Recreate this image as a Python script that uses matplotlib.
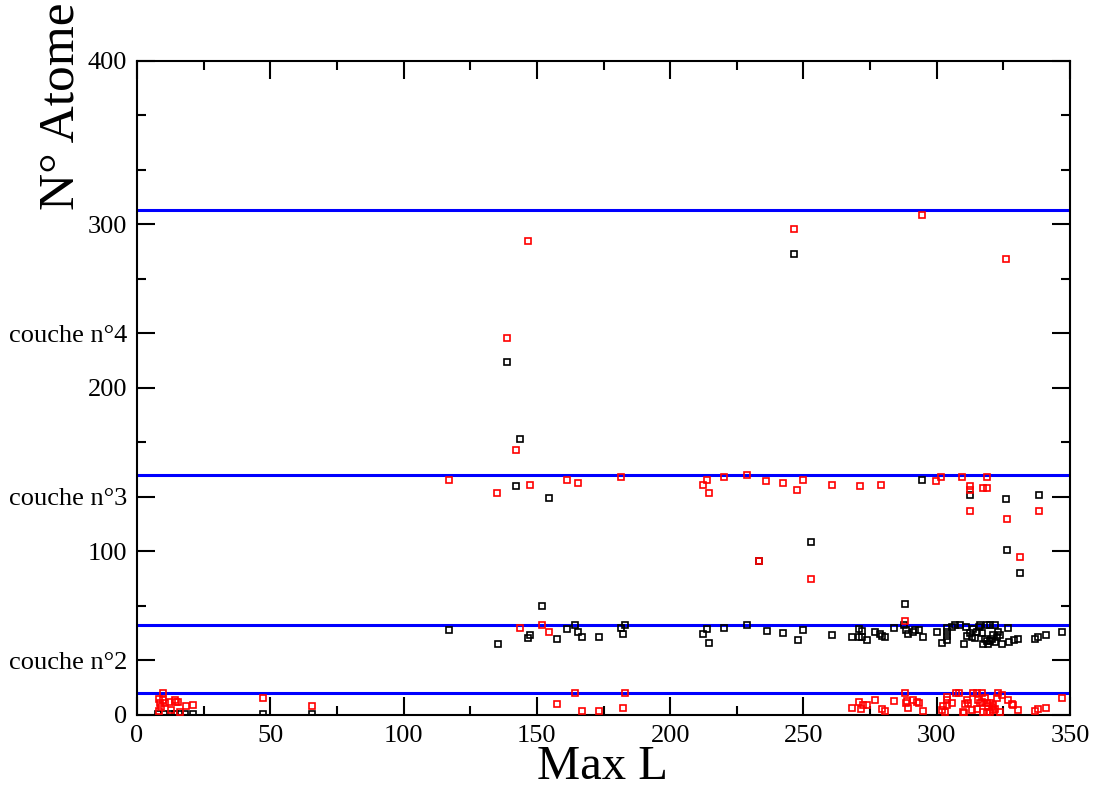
import matplotlib
matplotlib.use("Agg")
import matplotlib.pyplot as plt
import numpy as np

# couches (lignes bleues)
couches_y = [13.5, 55.0, 146.8, 308.9]

# points noirs (Max L, N° atome)
noir_x = [8, 10, 12.6, 14.3, 16, 18, 21, 47.4, 65.5,
          117.1, 135.5, 147.4, 146.5, 157.7, 161.2, 164.3, 165.3, 167, 173.4,
          181.4, 182.9, 182.4, 212.4, 213.7, 214.4, 220.2, 229, 236.2, 152,
          242.4, 247.8, 249.9, 260.6, 268.1, 271, 271.8, 270.8, 272, 274,
          277, 278.6, 279.5, 280.5, 284, 287.9, 288.3, 289.2, 291.1, 291.7,
          293.2, 294.8, 300, 288,
          301.8, 303.7, 303.9, 303.7, 303.9, 305.6, 306.8, 308.7, 311, 311.5,
          310.2, 312.5, 313.1, 313.7, 314.3, 315, 316, 316.8, 317.5, 319.3,
          320, 320.6, 321.2, 321.8, 322.5, 323.1, 323.7, 324.3, 316.2, 318.7,
          320, 321.8, 318.1, 318.7, 326.8,
          327.2, 329, 330.6, 336.8, 338, 340.8, 347,
          143.7, 142.2, 154.7, 233.4, 252.7, 294.3, 312.6, 326, 338.5, 326.5,
          331.3, 138.9, 246.3]
noir_y = [0.6, 0.6, 0.6, 0.6, 0.6, 0.6, 0.6, 0.6, 0.6,
          51.8, 43.4, 48.9, 46.9, 46.5, 52.6, 55, 50.5, 47.5, 47.5,
          53.2, 55, 49.6, 49.6, 52.6, 43.8, 53.2, 55, 51.2, 66.9,
          50, 45.8, 51.8, 48.7, 47.9, 52.8, 51.4, 47.9, 47.5, 46,
          50.5, 49.6, 48.5, 47.5, 53.2, 55, 52, 49.6, 50.5, 52,
          52, 47.5, 51, 67.9,
          44.2, 45.7, 53, 51, 48, 53.6, 55, 55, 53.6, 48,
          43.6, 50, 47.5, 52.8, 47, 50.8, 54, 50, 43.6, 43.6,
          45, 46.7, 48.7, 44.7, 47.7, 50.8, 48.7, 43.6, 55, 55,
          55, 55, 46.7, 45, 53,
          44.8, 45.6, 46.7, 46.7, 47.9, 48.9, 51,
          168.8, 139.9, 132.9, 94.4, 105.8, 143.7, 134.8, 131.8, 134.8, 100.9,
          86.8, 215.9, 282]

# points rouges
rouge_x = [9.9, 8.4, 9.9, 8.6, 10.5, 12.1, 14.3, 14.8, 15.5, 9.1, 12.6, 18.3,
           20.9, 8.1, 16, 47.4, 65.5, 157.7, 164.3, 167, 173.4, 182.4, 182.9,
           268.1, 271, 272.2, 271.6, 274, 277, 279.5, 280.5, 284, 288, 288.9,
           288.3, 289.2, 291.1, 292.6, 293.2, 294.8,
           303.7, 303.7, 304, 302.2, 301.8, 303.1, 305.6, 307.4, 308.5, 311.2,
           311.8, 310.6, 310, 310.2, 313.7, 315, 316.8, 313.1, 315, 317.5,
           318.7, 315.6, 316.2, 316.8, 318.1, 318.7, 319.3, 320, 320.6, 321.2,
           321.8, 322.5, 323.1, 324.3, 323.7, 326.8, 328.1, 328.7, 330.6, 320,
           321.2, 336.8, 338, 340.8, 347,
           288, 143.7, 152, 154.7,
           117.1, 135.1, 142.2, 147.3, 161.2, 165.3, 181.5, 212.4, 213.7, 214.4,
           220.2, 229, 236, 242.4, 247.7, 249.9, 260.6, 271.3, 279, 299.8,
           301.7, 309.3, 312.6, 312.6, 312.6, 317.2, 318.7, 319, 326.5, 338.5,
           331.3, 252.7, 233.4, 146.5, 138.9, 246.3, 294.3, 326]
rouge_y = [13.3, 10, 9.2, 7.1, 7.1, 8.2, 9.2, 8.2, 8.2, 4.9, 3.3, 5.3,
           6.1, 2.2, 1.8, 10.6, 5.3, 6.9, 13.3, 2.2, 2.2, 4.3, 13.3,
           4, 7.8, 6.4, 3.6, 6, 9.4, 3.4, 2.6, 8.6, 13.3, 8.4,
           7.2, 4.4, 9.4, 7.8, 7.4, 2.6,
           11.2, 8.9, 6.1, 5.5, 3.1, 2, 7.5, 13.5, 13.5, 8.9,
           7.1, 6.7, 2, 1, 13.5, 13.5, 13.5, 3.1, 3.5, 2,
           1.4, 9.2, 7.1, 8.2, 10.2, 7.5, 5.5, 7.1, 5.1, 6.1,
           3.5, 10.2, 13.5, 12.2, 2, 8.9, 6.7, 6.1, 3.1, 2,
           3.1, 2.5, 3.4, 4.3, 10.6,
           57.7, 53.2, 55, 50.5,
           143.7, 136, 161.9, 140.9, 143.7, 141.9, 145.8, 140.9, 143.7, 135.8,
           145.8, 147, 142.9, 141.9, 137.8, 143.7, 140.9, 139.9, 140.9, 142.9,
           145.8, 145.8, 139.9, 137.8, 124.8, 138.9, 138.9, 145.8, 119.9, 124.8,
           96.8, 83, 94.4, 289.9, 230.8, 297, 306, 278.9]

# graduations de l'axe y
y_ticks = [0, 100 / 3, 100, 400 / 3, 200, 700 / 3, 300, 400]
y_labels = ["0", "couche n°2", "100", "couche n°3", "200", "couche n°4", "300", "400"]
y_minor = [200 / 3, 500 / 3, 800 / 3, 1000 / 3, 1100 / 3]

plt.rcParams["font.family"] = ["Liberation Serif", "DejaVu Serif"]

fig = plt.figure(figsize=(10.95, 7.93), dpi=100)
ax = fig.add_axes([0.1251, 0.0984, 0.8521, 0.8247])

for yc in couches_y:
    ax.axhline(yc, color="#0000ff", lw=2.2, zorder=1)

ax.plot(noir_x, noir_y, ls="none", marker="s", ms=5, mfc="none",
        mec="black", mew=1.2, zorder=2)
ax.plot(rouge_x, rouge_y, ls="none", marker="s", ms=5, mfc="none",
        mec="red", mew=1.2, zorder=3)

ax.set_xlim(0, 350)
ax.set_ylim(0, 400)
ax.set_xticks(np.arange(0, 351, 50))
ax.set_xticks(np.arange(25, 350, 50), minor=True)
ax.set_yticks(y_ticks)
ax.set_yticklabels(y_labels)
ax.set_yticks(y_minor, minor=True)
ax.tick_params(which="both", direction="in", top=True, right=True,
               width=1.5, labelsize=19)
ax.tick_params(which="major", length=13, pad=7)
ax.tick_params(which="minor", length=6.5)
for s in ax.spines.values():
    s.set_linewidth(1.5)

fig.text(0.0557, 0.866, "N° Atome", rotation=90, fontsize=37,
         ha="center", va="center")
fig.text(0.55, 0.033, "Max L", fontsize=35, ha="center", va="center")

fig.savefig("out.png", dpi=100)
